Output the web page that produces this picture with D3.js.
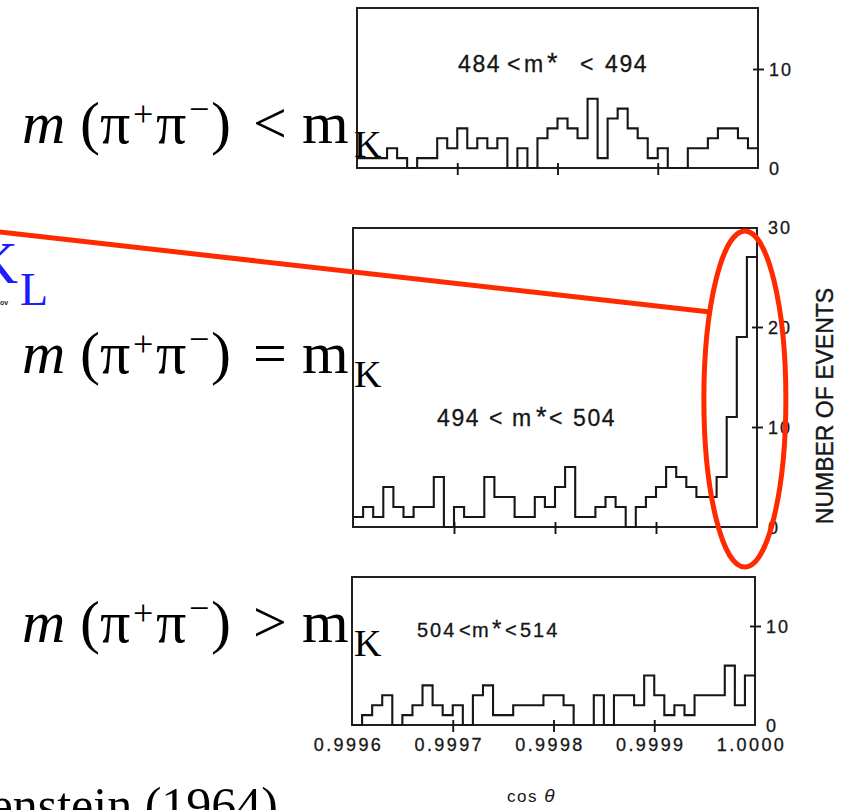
<!DOCTYPE html>
<html><head><meta charset="utf-8">
<script src="https://cdn.jsdelivr.net/npm/d3@7"></script>
<style>html,body{margin:0;padding:0;background:#fff;} svg{display:block}</style>
</head><body>
<svg id="c" width="843" height="810"></svg>
<script>
// ---- data ----
const binStart = 0.9996;          // cos(theta) of first bin edge
const binStep = 0.00001;          // bin width in cos(theta)
const countsBelow = [1,1,1,2,1,0,1,1,3,2,4,2,3,2,3,0,2,0,3,4,5,4,3,7,1,5,6,4,3,1,2,0,0,2,2,3,4,4,3,2];   // 484<m*<494
const countsAt    = [1,2,1,4,2,1,2,2,5,0,2,1,1,5,3,3,1,1,3,2,4,6,1,1,2,3,2,0,2,3,4,6,5,4,3,3,5,11,19,27]; // 494<m*<504
const countsAbove = [0,1,2,3,0,1,2,4,2,1,2,0,3,4,1,1,2,2,2,3,3,2,0,0,3,0,3,3,2,5,3,1,2,1,3,3,3,6,2,5];   // 504<m*<514
const xTickValues = [0.9996, 0.9997, 0.9998, 0.9999, 1.0000];
const xTickLabels = ["0.9996", "0.9997", "0.9998", "0.9999", "1.0000"];
const xMarkValues = [0.9997, 0.9998, 0.9999];
const titleBelow = ["484", "<", "m", "*", "<", "494"];
const titleAt    = ["494", "<", "m", "*", "<", "504"];
const titleAbove = ["504", "<", "m", "*", "<", "514"];
const yTicksSmall = [0, 10];
const yTicksLarge = [0, 10, 20, 30];
const relations = ["<", "=", ">"];
const yAxisTitle = "NUMBER OF EVENTS";
const xAxisTitle = ["cos ", "θ"];

// ---- layout ----
const svg = d3.select("#c");
const ink = "#161616";
const panels = [
  {counts: countsBelow, x0: 357, x1: 758, yTop: 8,   yBot: 168, yMax: 16.16, ticks: yTicksSmall, marks: [10],
   title: titleBelow, tx: [458, 507, 524, 547, 580, 605], tb: 72, tsize: 23, tls: 1.6},
  {counts: countsAt,    x0: 353, x1: 757, yTop: 228, yBot: 527, yMax: 29.9, ticks: yTicksLarge, marks: [10, 20],
   title: titleAt, tx: [437, 489, 512, 536, 549, 573], tb: 426, tsize: 23, tls: 1.6},
  {counts: countsAbove, x0: 352, x1: 755, yTop: 577, yBot: 725, yMax: 14.95, ticks: yTicksSmall, marks: [10],
   title: titleAbove, tx: [417, 459, 472, 492, 505, 520], tb: 637, tsize: 20, tls: 2}
];

panels.forEach((p, pi) => {
  const nb = p.counts.length;
  const x = d3.scaleLinear().domain([binStart, binStart + nb * binStep]).range([p.x0, p.x1]);
  const y = d3.scaleLinear().domain([0, p.yMax]).range([p.yBot, p.yTop]);
  const g = svg.append("g");
  p.x = x; p.y = y;

  // histogram outline
  const pts = p.counts.map((c, i) => [binStart + i * binStep, c]);
  pts.push([binStart + nb * binStep, p.counts[nb - 1]]);
  g.append("path")
    .attr("d", d3.line().x(d => x(d[0])).y(d => y(d[1])).curve(d3.curveStepAfter)(pts))
    .attr("fill", "none").attr("stroke", ink).attr("stroke-width", 2.1);

  // frame
  g.append("rect")
    .attr("x", x.range()[0]).attr("y", y.range()[1])
    .attr("width", x.range()[1] - x.range()[0]).attr("height", y.range()[0] - y.range()[1])
    .attr("fill", "none").attr("stroke", ink).attr("stroke-width", 1.9);

  // bottom tick marks
  const xa = g.append("g").attr("transform", `translate(0,${p.yBot})`)
    .call(d3.axisBottom(x).tickValues(xMarkValues).tickSize(7).tickFormat(""));
  xa.select(".domain").remove();
  xa.selectAll(".tick line").attr("y1", -5).attr("y2", 7).attr("stroke", ink).attr("stroke-width", 1.9);

  // right tick marks
  const ya = g.append("g").attr("transform", `translate(${p.x1},0)`)
    .call(d3.axisRight(y).tickValues(p.marks).tickSize(6).tickFormat(""));
  ya.select(".domain").remove();
  ya.selectAll(".tick line").attr("x1", -5).attr("x2", 6).attr("stroke", ink).attr("stroke-width", 1.9);

  // right tick labels
  const yl = g.append("g").attr("transform", `translate(${p.x1},0)`)
    .call(d3.axisRight(y).tickValues(p.ticks).tickSize(0).tickPadding(11).tickFormat(d3.format("d")));
  yl.select(".domain").remove();
  yl.selectAll("text").attr("font-family", "Liberation Sans").attr("font-size", 18)
    .attr("letter-spacing", 2).attr("fill", ink).attr("dy", "0.36em")
    .attr("stroke", ink).attr("stroke-width", 0.3);

  // panel title
  g.append("g").selectAll("text").data(p.title).join("text")
    .attr("x", (d, i) => p.tx[i]).attr("y", p.tb)
    .attr("font-family", "Liberation Sans").attr("font-size", (d) => d === "*" ? p.tsize + 4 : p.tsize)
    .attr("letter-spacing", p.tls).attr("fill", ink)
    .attr("stroke", ink).attr("stroke-width", 0.3)
    .text(d => d);

  // x tick labels on the bottom panel
  if (pi === panels.length - 1) {
    const xl = g.append("g").attr("transform", `translate(0,${p.yBot})`)
      .call(d3.axisBottom(x).tickValues(xTickValues).tickSize(0).tickPadding(13)
        .tickFormat((d, i) => xTickLabels[i]));
    xl.select(".domain").remove();
    xl.selectAll("text").attr("font-family", "Liberation Sans").attr("font-size", 18)
      .attr("letter-spacing", 2.4).attr("fill", ink).attr("x", -4)
      .attr("stroke", ink).attr("stroke-width", 0.3);
  }
});

// y-axis title
svg.append("text")
  .attr("transform", "translate(833,406) rotate(-90)")
  .attr("text-anchor", "middle")
  .attr("font-family", "Liberation Sans").attr("font-size", 23).attr("fill", ink)
  .attr("stroke", ink).attr("stroke-width", 0.4)
  .text(yAxisTitle);

// x-axis title
const xt = svg.append("text").attr("x", 507).attr("y", 802)
  .attr("font-family", "Liberation Sans").attr("font-size", 17).attr("fill", ink);
xt.append("tspan").attr("letter-spacing", 1.5).text(xAxisTitle[0]);
xt.append("tspan").attr("font-style", "italic").attr("font-size", 19).text(xAxisTitle[1]);

// left-hand formula labels
const lineBase = [143, 373, 642];
relations.forEach((r, i) => {
  const b = lineBase[i];
  const t = svg.append("g").attr("font-family", "Liberation Serif").attr("fill", "#000");
  t.append("text").attr("x", 22).attr("y", b).attr("font-size", 60).attr("font-style", "italic").text("m");
  t.append("text").attr("x", 80).attr("y", b).attr("font-size", 60).text("(");
  t.append("text").attr("x", 100).attr("y", b).attr("font-size", 60).text("π");
  t.append("text").attr("x", 133).attr("y", b - 17).attr("font-size", 36).text("+");
  t.append("text").attr("x", 156).attr("y", b).attr("font-size", 60).text("π");
  t.append("text").attr("x", 189).attr("y", b - 22).attr("font-size", 36).text("−");
  t.append("text").attr("x", 211).attr("y", b).attr("font-size", 60).text(")");
  t.append("text").attr("x", 253).attr("y", b).attr("font-size", 60).text(r);
  t.append("text").attr("x", 302).attr("y", b).attr("font-size", 60).text("m");
  t.append("text").attr("x", 354).attr("y", b + 14).attr("font-size", 38).text("K");
});

// K_L label
svg.append("text").attr("x", 18).attr("y", 283).attr("text-anchor", "end")
  .attr("font-family", "Liberation Serif").attr("font-size", 60).attr("fill", "#1c1cff").text("K");
svg.append("text").attr("x", 20).attr("y", 305)
  .attr("font-family", "Liberation Serif").attr("font-size", 46).attr("fill", "#1c1cff").text("L");
svg.append("text").attr("x", 0).attr("y", 305)
  .attr("font-family", "Liberation Sans").attr("font-size", 7).attr("font-weight", "bold").attr("fill", "#222").text("ov");

// citation fragment
svg.append("text").attr("x", 278).attr("y", 822).attr("text-anchor", "end")
  .attr("font-family", "Liberation Serif").attr("font-size", 50).attr("fill", "#000")
  .text("fenstein (1964)");

// red annotation: ellipse around the peak and pointer line (in data units of middle panel)
const pm = panels[1];
const red = "#ff2a00";
const ell = {cx: 0.999988, cy: 12.8, rxSpan: 0.0000406, rySpan: 16.8};
svg.append("ellipse")
  .attr("cx", pm.x(ell.cx)).attr("cy", pm.y(ell.cy))
  .attr("rx", pm.x(ell.cx + ell.rxSpan) - pm.x(ell.cx))
  .attr("ry", pm.y(0) - pm.y(ell.rySpan))
  .attr("fill", "none").attr("stroke", red).attr("stroke-width", 5);
const pointer = [[0.99925, 29.5], [0.9999535, 21.5]];
svg.append("line")
  .attr("x1", pm.x(pointer[0][0])).attr("y1", pm.y(pointer[0][1]))
  .attr("x2", pm.x(pointer[1][0])).attr("y2", pm.y(pointer[1][1]))
  .attr("stroke", red).attr("stroke-width", 5);
</script>
</body></html>
